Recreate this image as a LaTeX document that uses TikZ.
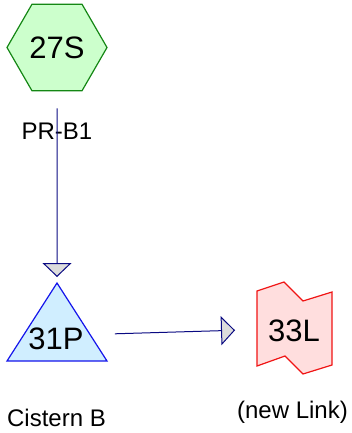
\documentclass[tikz,border=0pt]{standalone}
\usepackage{fontspec}
\setmainfont{Liberation Sans}
\usepackage{xcolor}
\usepackage{tikz}
\usetikzlibrary{arrows.meta,shapes.geometric}
\definecolor{verdeborda}{RGB}{20,135,20}
\definecolor{verdefundo}{RGB}{204,255,204}
\definecolor{azulborda}{RGB}{20,20,235}
\definecolor{azulfundo}{RGB}{208,238,255}
\definecolor{rosafundo}{RGB}{255,222,222}
\definecolor{vermelhoborda}{RGB}{240,20,20}
\definecolor{azulmarinho}{RGB}{10,10,130}
\definecolor{cinzaseta}{RGB}{220,220,220}
\tikzset{
  hexno/.style={regular polygon,regular polygon sides=6,draw=verdeborda,fill=verdefundo,
    minimum size=100pt,inner sep=0pt,line width=1.2pt,font=\fontsize{31}{37}\selectfont},
  trino/.style={draw=azulborda,fill=azulfundo,line width=1.2pt,line join=miter},
  bandeira/.style={draw=vermelhoborda,fill=rosafundo,line width=1.2pt},
  texto/.style={inner sep=0pt,font=\fontsize{31}{37}\selectfont},
  seta/.style={-{Triangle[length=14pt,width=29pt,fill=cinzaseta]},line width=1pt,azulmarinho}
}

\begin{document}
\begin{tikzpicture}[x=1pt,y=-1pt,
  rotulo/.style={inner sep=0pt,font=\fontsize{24}{29}\selectfont}]
\useasboundingbox (0,0) rectangle (351,433);
\node[hexno] (s27) at (57,47.5) {27S};
\coordinate (t31) at (57,283);
\coordinate (c31) at (57,335.5);
\coordinate (c33) at (294.5,328.5);
\draw[trino] (t31) -- (107,361) -- (7,361) -- cycle;
\draw[bandeira] (257,291) -- (284,282) -- (303,301) -- (332,292) -- (332,365)
  -- (303,374) -- (285,356) -- (257,366) -- cycle;
\node[texto] (p31) at (56,338.5) {31P};
\node[texto] (l33) at (294,330.5) {33L};
\node[rotulo] (r1) at (57,131) {PR-B1};
\draw[seta,shorten <=17pt,shorten >=6pt] (s27.south) -- (t31);
\draw[seta,shorten <=58pt,shorten >=59.5pt] (c31) -- (c33);
\node[rotulo] (n31) at (56.5,418) {Cistern B};
\node[rotulo] (n33) at (292.5,412.5) {(new Link)};
\end{tikzpicture}
\end{document}
